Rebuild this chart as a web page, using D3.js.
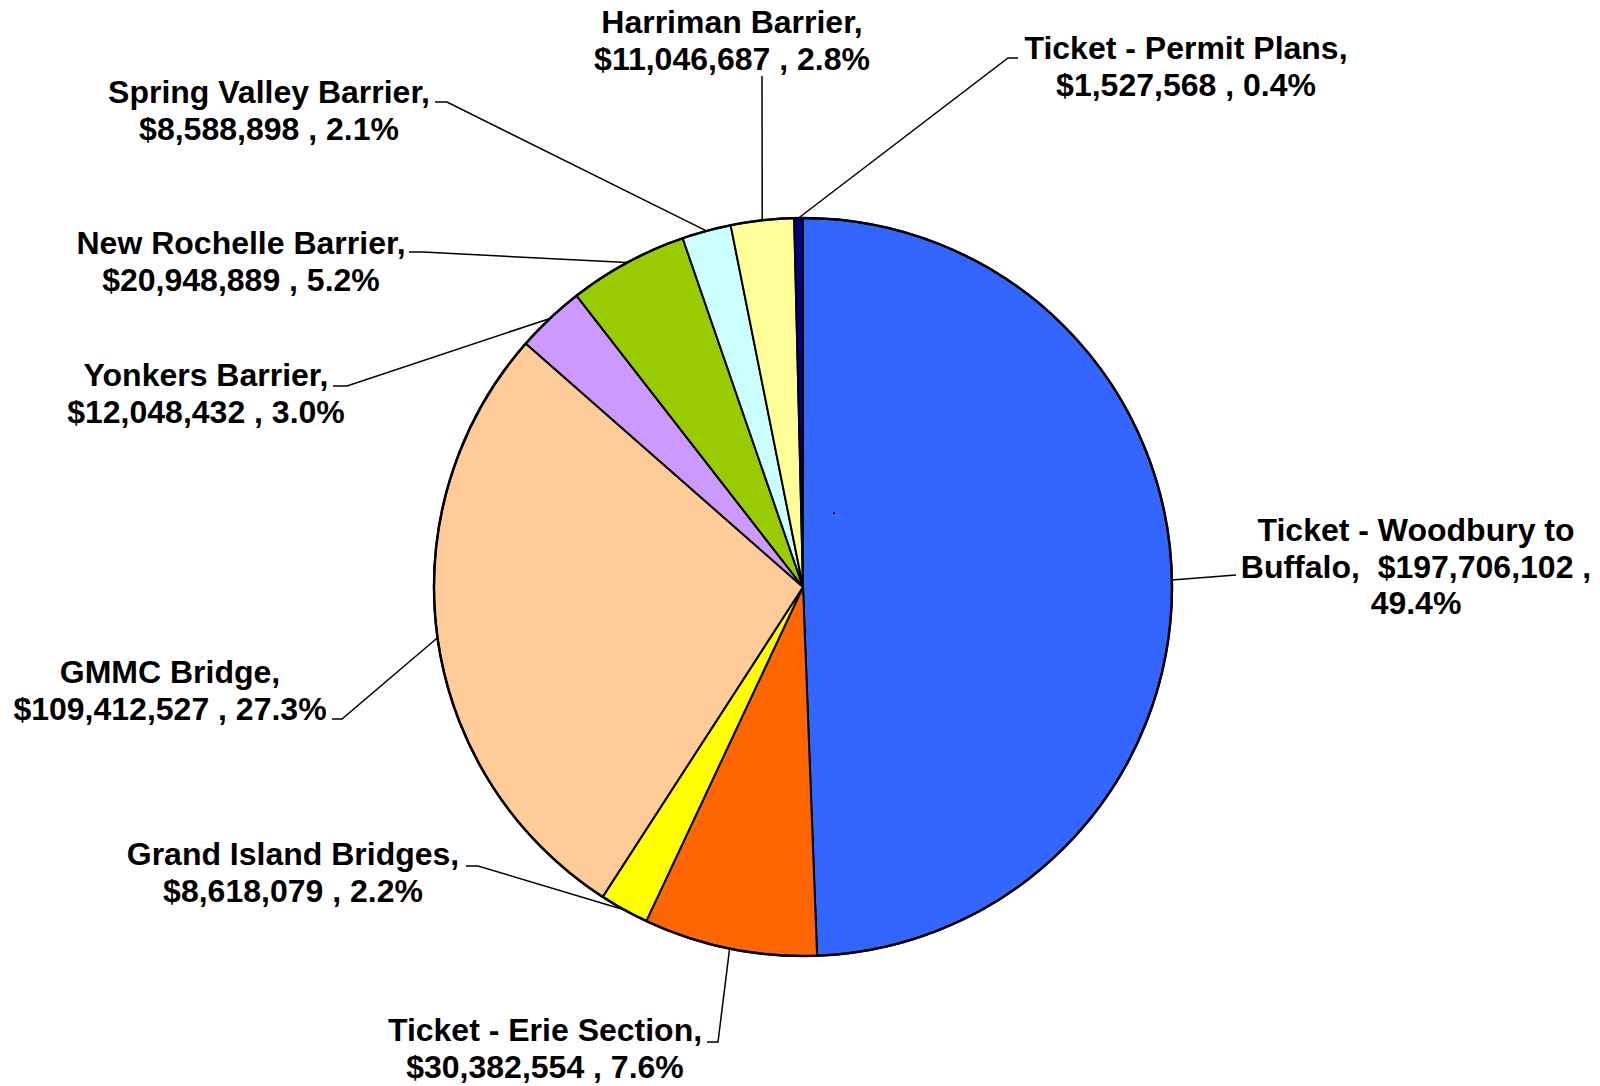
<!DOCTYPE html>
<html>
<head>
<meta charset="utf-8">
<script src="https://cdn.jsdelivr.net/npm/d3@7"></script>
<style>
  html, body { margin: 0; padding: 0; background: #fff; }
  svg { display: block; }
  .lbl { font-family: "Liberation Sans", Arial, sans-serif; font-weight: bold; font-size: 32px; fill: #000; white-space: pre; }
</style>
</head>
<body>
<div id="chart"></div>
<script>
// slice data, clockwise from 12 o'clock
const names = ["Ticket - Woodbury to Buffalo", "Ticket - Erie Section", "Grand Island Bridges",
  "GMMC Bridge", "Yonkers Barrier", "New Rochelle Barrier", "Spring Valley Barrier",
  "Harriman Barrier", "Ticket - Permit Plans"];
const values = [197706102, 30382554, 8618079, 109412527, 12048432, 20948889, 8588898, 11046687, 1527568];
const colors = ["#3366ff", "#ff6600", "#ffff00", "#ffcc99", "#cc99ff", "#99cc00", "#ccffff", "#ffff99", "#000080"];

// label placement: text centre, first baseline, leader elbow points
const labelPos = [
  { x: 1416, y: 541, leader: [[1236, 575]] },
  { x: 545, y: 1041, leader: [[718, 1042], [707, 1042]] },
  { x: 293, y: 865, leader: [[478, 866], [466, 866]] },
  { x: 170, y: 683, leader: [[342, 719], [332, 719]] },
  { x: 206, y: 386, leader: [[347, 386], [333, 386]] },
  { x: 241, y: 254, leader: [[423, 252], [409, 252]] },
  { x: 269, y: 103, leader: [[447, 102], [435, 102]] },
  { x: 732, y: 33, leader: [[762, 76]] },
  { x: 1186, y: 59, leader: [[1008, 58], [1018, 58]] }
];

const width = 1600, height = 1086;
const cx = 803, cy = 587, radius = 369;
const lineH = 36.5;

const svg = d3.select("#chart").append("svg")
  .attr("width", width)
  .attr("height", height);

const total = d3.sum(values);
const money = d3.format("$,");
const pct = d3.format(".1%");

const pie = d3.pie().sort(null).value(d => d)(values);
const arc = d3.arc().innerRadius(0).outerRadius(radius);

const g = svg.append("g").attr("transform", "translate(" + cx + "," + cy + ")");

g.selectAll("path.slice")
  .data(pie)
  .enter()
  .append("path")
  .attr("class", "slice")
  .attr("d", arc)
  .attr("fill", (d, i) => colors[i])
  .attr("stroke", "#000")
  .attr("stroke-width", 2)
  .attr("stroke-linejoin", "round");

// outer rim
g.append("circle")
  .attr("r", radius)
  .attr("fill", "none")
  .attr("stroke", "#000")
  .attr("stroke-width", 2.5);

// stray empty data label dot
svg.append("rect").attr("x", 833).attr("y", 512).attr("width", 2).attr("height", 2).attr("fill", "#000");

// leader lines from slice mid-angle on the rim
const line = d3.line();
pie.forEach((d, i) => {
  const a = (d.startAngle + d.endAngle) / 2;
  const p0 = [cx + radius * Math.sin(a), cy - radius * Math.cos(a)];
  svg.append("path")
    .attr("d", line([p0].concat(labelPos[i].leader)))
    .attr("fill", "none")
    .attr("stroke", "#000")
    .attr("stroke-width", 1.5);
});

// label text lines
function labelLines(i) {
  const v = money(values[i]);
  const p = pct(values[i] / total);
  if (i === 0) return ["Ticket - Woodbury to", "Buffalo,  " + v + " ,", p];
  return [names[i] + ",", v + " , " + p];
}

names.forEach((n, i) => {
  const t = svg.append("text")
    .attr("class", "lbl")
    .attr("text-anchor", "middle");
  labelLines(i).forEach((s, k) => {
    t.append("tspan")
      .attr("x", labelPos[i].x)
      .attr("y", labelPos[i].y + k * lineH)
      .text(s);
  });
});
</script>
</body>
</html>
